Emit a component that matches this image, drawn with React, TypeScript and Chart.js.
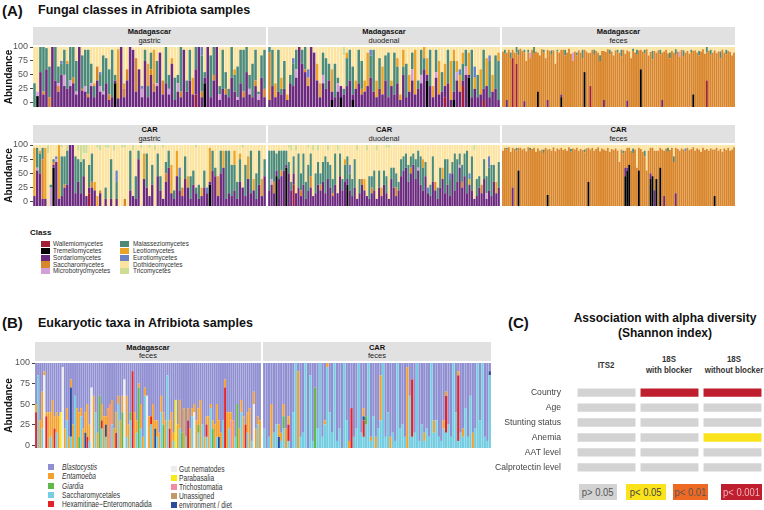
import React, { useEffect, useRef } from "react";
import { Chart, registerables } from "chart.js";
Chart.register(...registerables);

const FONT = "'Liberation Sans', Arial, Helvetica, sans-serif";

// ---------- Panel A: fungal classes ----------
const A_CLASSES = ["Wallemiomycetes", "Tremellomycetes", "Sordariomycetes", "Saccharomycetes", "Microbotryomycetes", "Malasseziomycetes", "Leotiomycetes", "Eurotiomycetes", "Dothideomycetes", "Tricomycetes"];
const A_CODES = ["W", "T", "S", "C", "M", "Z", "L", "E", "D", "R"];
const A_COLORS = ["#a31d36", "#000000", "#6b2a7e", "#d9852a", "#d2a0d6", "#4d8b78", "#eda325", "#6b82c3", "#fce39e", "#cfdc93"];
const A_Y_TICKS = [0, 25, 50, 75, 100];

const MDG_GASTRIC = ["Z35D65","T12M8D80","S55Z45","S15C5Z80","S60Z38D2","C10Z55D35","S100","S40Z60","S20C10M5Z30D35","S50E5Z20D25","S30M20Z45D5","S25Z45L5D25","S30M10Z60","S35C10Z55","S15M5Z55D25","S100","S22C3Z60D15","S20M10Z65D5","S10C5Z80D5","S30M5Z35D30","S10Z20L5D65","S40C25D35","S20M10E5Z20D45","S15M5Z65D15","S35Z45D20","S5C10Z45D40","S10Z85D5","T35S5Z10D50","S8L88D4","S100","S10C15L10D65","S40C20D40","S100","S95D5","S20C60D20","S60D40","S10M15E5D70","S75Z20D5","S10L40Z20D30","S50C10Z30D10","S20C15L60D5","S30M5Z40D25","S90D10","S15C25D60","S35Z65","S15M10Z25D50","S70L10D20","S5Z40D55","S20M15Z15D50","S10C10Z80","S95D5","S20Z20D60","S40Z55D5","S15L30D55","W15S45Z40","S100","S10C10E15Z65","T35S10Z10D45","S100","S10Z75D15","S40C10Z50","S100","S5M10Z15D70","S25Z70D5","S15C10Z30D45","S10Z15D75","S45Z55","S20L10Z30D40","S5M5Z55D35","S35Z60D5","S10C10Z75D5","S55Z45","S15M10Z25D50","S10Z60D30","S30C10Z55D5","S5M10Z5D80","S45Z40D15","S10C15Z70D5"];

const MDG_DUODENAL = ["S5C85Z10","S30Z65D5","S10L25D65","S20Z75D5","S15L20Z10D55","S25Z50D25","S5L10D85","S35Z15D50","S30Z40E10D20","S45M15Z35D5","S100","S70Z25D5","S55C5Z40","S30L15E15D40","S100","S90D10","S40L30D30","S10L25D65","S35M15Z40D10","S25Z55D20","S40Z30D30","T5S15L40D40","S10Z60D30","S20M15Z10D55","T10S20D70","S15Z10D60R15","S30L10Z50D10","S40Z55D5","T5S10Z50D35","S25L15D60","S35Z60D5","S15C10Z50D25","S20L20D60","S30L60D10","S45Z40E10D5","S20Z75D5","S10L30D60","S25Z55D20","S15L50D35","S40Z45D15","S10Z80D10","S30L10D60","S15Z75D10","S35L15Z30D20","S5L10D85","S50L30Z15D5","S10Z60D30","S20L30D50","S40M20Z30D10","S15L80D5","S25Z15D60","S35M15Z45D5","S60L20Z20","T40S10L30D20","S30Z65D5","S10L20D70","S45M10Z40D5","S15L60D25","S20Z35D45","W10S20L40D30","S35Z60D5","S5L70D25","T5S15L20Z55D5","S40M15L20D25","S20L30E10D40","W30S10L20Z30D10","S50M15Z30D5","T45S5L40D10","S10Z85D5","S25L20E20D35","S10Z40D50","S15L45D40","W5S20Z70D5","S30L50D20","S10E10Z65D15","S20L30D50","S25Z60D15","S5L15Z70D10"];

const MDG_FECES = ["C92D8","C88Z7D5","S5C85D10","C95D5","C80Z10D10","W80C15D5","C90D10","W70C20Z10","C85Z10D5","C97D3","C93D7","S3C87Z5D5","C75D25","C90Z5D5","M10C80D10","C95D5","C88Z12","C92D8","T20C70D10","C85D15","C96D4","C90Z5D5","C80D20","S5C90D5","C93D7","C86Z8D6","C94D6","C70D30","C92Z3D5","C90D10","T10S5C80D5","C95D5","C85Z10D5","C90D10","C97D3","C88D12","M15C75D10","C92D8","C85Z5D10","C94D6","C90D10","C80Z15D5","T55C40D5","C92D8","C89D11","W30C60D10","C95D5","C86Z9D5","C93D7","C90D10","C75Z10D15","C93D7","S5C88D7","C91D9","C96D4","C87Z8D5","C92D8","C85D15","C94D6","C90Z5D5","C90D10","C83Z12D5","C95D5","C88D12","S4C90D6","C92D8","C80D20","C93Z4D3","C90D10","C86Z9D5","C94D6","T60C35D5","C92D8","C88Z7D5","C96D4","C85D15","C91D9","C78Z15D7","C93D7","C90D10","C94D6","C87Z8D5","S5C85D10","C92D8","C95D5","C89D11","C80Z10D10","C93D7","C90D10","C86Z10D4","C92D8","M10C82D8","C95D5","C84Z10D6","C90D10","C93D7","C88D12","C91Z4D5","T15C78D7","C94D6","C90D10","C85Z8D7","C92D8","C96D4","C88D12","W40C50Z10","C93D7","C86Z9D5","C90D10","C94D6","C89D11","C92D8","C80Z12D8","C95D5","C90D10","C87Z8D5","C93D7","C91D9","C85D15","C90D10"];

const CAR_GASTRIC = ["S10L85D5","S55M5Z35D5","S50L5Z35D10","S5C70Z20D5","S5L90D5","D85R15","M25Z5D70","T60S5C5Z5D25","S70M5E5D20","S5L95","S10Z70D15R5","S25C5Z50D20","S30Z60R10","S100","S100","S15Z65D20","S35Z40D15R10","S15Z55R30","S45Z30D10R15","S10D75R15","W15S10Z40D35","S25C10Z50D15","S20L15D65","L10D85R5","S15C5D70R10","D100","S5Z20D70R5","D95R5","S5Z70D25","D90R10","S5E20Z30D45","D100","D95R5","C5D90R5","D100","S20Z70D10","S10D80R10","S5Z40D55","S75Z15D10","D95R5","S40L45D15","S25Z60D15","S10D85R5","S30Z35D35","D90R10","S45Z40D15","S20Z25D55","S5D90R5","S35C15Z20D30","S60Z30D10","S15L50D35","S5Z15D80","S45L45D10","S20E15Z25D40","S10C15D75","S40Z40D20","S25L20D55","S5Z40D55","S30Z25D45","S15Z10D70R5","S5Z25D70","S10L15D75","S25Z30D45","S15E10D75","T30S5L60D5","S55Z35D10","S45Z15D40","S10L35D55","S50Z40D10","S60L30D10","S5Z85D10","S15Z75D10","S10Z55D35","S20L25Z45D10","S5Z30D65","S35L10Z40D15","S25D70R5","S10Z55D35","S40L40D20","S15Z75D10","S20L20D60","S5Z45D50","S30Z60D10","S10L30D60","S45Z30D25"];

const CAR_DUODENAL = ["S20Z70D10","S30M10Z50D10","S15C20Z55D10","T45S10Z30D15","S40Z50D10","S45C10Z35D10","S55Z35D10","T60S5Z25D10","S50Z20D25R5","S20Z15D55R10","W30S20Z30D20","S15D75R10","S25Z60D15","S10C10Z30D50","S30Z55D15","S5Z30D65","S20Z45D30R5","S25C20Z40D15","S10D80R10","S15Z35D50","S30Z40D20R10","S20C10Z20D50","S35Z35D30","S15Z65D20","S40Z30D20R10","S25Z40D35","S10C5Z25D60","S30Z55D15","S15D75R10","S45Z40D15","S20Z20D60","S35L10Z30D25","T30S10Z40D20","S20E15Z30D35","S10Z30D60","S25Z50D25","S5D85R10","S15Z25D60","S30C10D60","S20L20D60","S10D80R10","S5Z40D55","S15C10Z20D55","S20Z35D45","S5D85R10","S25Z30D45","S10L15D75","S30Z25D45","S15Z30D50R5","S5D90R5","S40Z20D40","S25Z35D40","S10C15Z25D50","S20Z15D65","S45Z30D25","S55Z25D20","S60Z25D15","S35Z30D35","S50C10Z20D20","S65Z20D15","S40Z35D25","S55M5Z30D10","S30Z50D20","S20L15Z40D25","S45Z25D30","S15E10D75","S10Z20D70","S35Z45D20","S20C15D65","S5Z20D75","S25Z35D40","S40L20D40","S15Z60D25","S30Z45D25","S10E10Z30D50","S50Z20D30","S20Z65D15","S35Z40D25","S60M5Z20D15","S25C10Z30D35","S45Z40D15","S15Z75D10","S30L10E10D50","S20Z60D20","S5D85R10","S10Z30D60","S25Z20D55","S15C15D70","S40Z35D25","S5M10Z30D55","S20E20Z40D20","S10Z55D35","S35Z30D35","S15L20D65","S25Z45D30"];

const CAR_FECES = ["C90D10","C95D5","C92Z3D5","C96D4","C88D12","S25C70D5","C93D7","C90Z5D5","T55C40D5","C95D5","C92D8","C94D6","C89D11","C96D4","C91Z4D5","C93D7","C95D5","C88D12","C94D6","C90D10","C92D8","C86Z6D8","C95D5","T12C80D8","C93D7","C90D10","C96D4","C89D11","C94D6","C92D8","C95D5","C91D9","C93D7","C90D10","C96D4","C88Z5D7","C94D6","C92D8","C95D5","C90D10","C93D7","C91D9","C87Z5D8","C94D6","T35C60D5","C92D8","C95D5","C90D10","C93D7","C96D4","C89D11","C94D6","C92D8","C90D10","C95D5","C88D12","C93D7","C91D9","C94D6","C90D10","C70D30","C92D8","C85Z5D10","T45S15C30D10","T55S5C35D5","T65C30D5","C90D10","C86Z8D6","C92D8","C60D40","T55C40D5","C93D7","C88D12","C80Z10D10","C55D45","C90D10","T40S10C45D5","T45C50D5","S20C70D10","T40C50D10","C90D10","T60C35D5","C92D8","S10C80D10","C94D6","C88Z7D5","C91D9","C95D5","C70Z10D20","S15C80D5","C93D7","C90D10","C94D6","C92D8","C89E5D6","C95D5","C91D9","C93D7","C96D4","C90D10","C94D6","C92D8","C88D12","C95D5","C91D9","C93D7","C90D10","C94D6","C92D8","T10C82D8","C95D5","C90D10","C93D7","C88D12","C94D6","C91D9","C95D5","C90D10","C92D8","C96D4"];

// ---------- Panel B: eukaryotic taxa ----------
const B_TAXA = ["Blastocystis", "Entamoeba", "Giardia", "Saccharomycetales", "Hexamitinae\u2212Enteromonadida", "Gut nematodes", "Parabasalia", "Trichostomatia", "Unassigned", "environment / diet"];
const B_TAXA_CODES = ["B", "E", "G", "Y", "H", "N", "P", "K", "U", "V"];
const B_TAXA_COLORS = ["#8f8fd2", "#f4a02e", "#5fb84a", "#74cde0", "#e32229", "#ececee", "#f7ea15", "#f28ca2", "#c19a6b", "#2c4b9b"];
const B_STACK = ["Y", "G", "H", "N", "P", "K", "U", "V", "E", "B"];

const MDG_B = ["H40E10B50","Y85B15","E30B70","Y20E45B35","N85E5B10","H35E5B60","E40B60","Y10E30B60","E55B45","H20E15B65","Y15E25B60","E35B65","P40B60","N95B5","E20B80","Y30E15B55","E10B90","Y10E10V60B20","E25B75","Y60B40","E45B55","G10E30B60","Y35E10B55","E20B80","V15E25B60","H10E40B50","Y5E20B75","N70B30","E60B40","Y40B60","E15B85","G60B40","Y20H10E20B50","E35B65","Y10V15E10B65","E45B55","K50B50","Y25E30B45","E20B80","H15E25B60","Y50E10B40","E30B70","G40E20B40","N80B20","Y10E50B40","E25B75","Y30G10B60","H90B10","E40B60","Y15E15B70","G70E5B25","Y20E30B50","E10B90","Y60E10B30","N60B40","E35B65","Y25H10B65","E50B50","V20E10B70","Y10E20B70","E15B85","Y40E20B40","G25E15B60","E30B70","Y85B15","H20E10B70","E40B60","Y5E10B85","P55B45","E25B75","Y20E35B45","G15B85","E45B55","Y10B90","H30E15B55","E20B80","Y35E10B55","N40E10B50","E30B70","Y15G10E20B55","E55B45","Y25B75","E10B90","H15Y10E10B65","E35B65","Y45E5B50","G20E10B70","E25B75","Y10E40B50","V10E20B70","E15B85","Y30B70","H70E10B20","E40B60","Y20E20B60","K30E10B60","E30B70","Y10B90","G50B50","E20B80","Y40E15B45","E35B65","H25B75","Y15E25B60","E45B55","Y5B95","N50E15B35","E20B80","Y25E10B65","E30B70"];

const CAR_B = ["Y20B80","B100","Y10B90","E50B50","Y15B85","Y25B75","V10E15B75","Y5E10B85","Y20G15E15B50","E20B80","Y5H20E10B65","B100","Y40B60","Y100","E90B10","Y10B90","Y15B85","Y100","B100","Y85B15","Y5B95","G70B30","Y20B80","Y100","Y10B90","Y25E5B70","Y95E5","Y40B60","Y15B85","Y100","Y5B95","Y20B80","B100","Y100","Y30B70","E5B95","H45B55","Y10B90","Y20B80","Y100","Y15B85","Y10H20V5E10B55","Y25G10B65","Y100","Y5E5B90","Y35B65","E10B90","Y20B80","Y30E55B15","Y100","Y10B90","Y40B60","E10B90","Y15B85","Y5B95","Y100","Y20B80","Y25B75","Y10B90","E95B5","Y60B40","Y10H70B20","Y15B85","Y100","Y5B95","Y25B75","Y5E10B85","Y20B80","Y10B90","Y100","Y15E15B70","Y30B70","Y10B90","Y5B95","Y20E10B70","Y15H45E5B35","Y25B75","Y10B90","Y100","Y40B60","Y5H80E5B10","Y15B85","Y10E10B80","Y45B55","Y10B90","Y60B40","E15B85","Y20B80","Y100","Y30B70","Y100","Y10B90","Y5B95","Y85V5B10"];

// ---------- Panel C: association table ----------
const C_ROWS = ["Country", "Age", "Stunting status", "Anemia", "AAT level", "Calprotectin level"];
const C_ITS2 = ["ns", "ns", "ns", "ns", "ns", "ns"];
const C_18S_BLOCKER = ["p001", "ns", "ns", "ns", "ns", "ns"];
const C_18S_NO_BLOCKER = ["p001", "ns", "ns", "p05", "ns", "ns"];
const P_LEVELS = ["ns", "p05", "p01", "p001"];
const P_LABELS = ["p> 0.05", "p< 0.05", "p< 0.01", "p< 0.001"];
const P_COLORS = ["#d3d3d3", "#fbe31c", "#ee6a24", "#be1e2d"];

function parseBar(s: string): Record<string, number> {
  const o: Record<string, number> = {};
  const re = /([A-Z])(\d+)/g;
  let m: RegExpExecArray | null;
  while ((m = re.exec(s))) o[m[1]] = Number(m[2]);
  return o;
}

function stackConfig(bars: string[], codes: string[], colorOf: (c: string) => string, yMin: number, axisW: number, barPct: number): any {
  const parsed = bars.map(parseBar);
  const datasets = codes.map((code, ci) => ({
    label: code,
    data: parsed.map((p) => {
      const v = p[code] || 0;
      if (!v) return null;
      let s = 0;
      for (let k = 0; k < ci; k++) s += p[codes[k]] || 0;
      return [s === 0 ? yMin : s, s + v];
    }),
    backgroundColor: colorOf(code),
    borderWidth: 0,
    grouped: false,
    barPercentage: barPct,
    categoryPercentage: 1,
  }));
  const yAxis: any = axisW > 0
    ? {
        min: yMin,
        max: 100,
        afterBuildTicks: (s: any) => { s.ticks = A_Y_TICKS.map((v) => ({ value: v })); },
        afterFit: (s: any) => { s.width = axisW; },
        border: { display: false },
        grid: { drawOnChartArea: false, drawTicks: true, tickLength: 3, tickColor: "#444", lineWidth: 1 },
        ticks: { padding: 2, color: "#555", autoSkip: false, font: { family: FONT, size: 9 } },
        title: { display: true, text: "Abundance", color: "#111", font: { family: FONT, size: 10, weight: "bold" }, padding: { top: 3, bottom: 0 } },
      }
    : { display: false, min: yMin, max: 100 };
  return {
    type: "bar",
    data: { labels: bars.map((_, i) => "s" + (i + 1)), datasets },
    options: {
      animation: false,
      responsive: false,
      layout: { padding: { top: 8, bottom: 8, left: 0, right: 0 } },
      plugins: { legend: { display: false }, tooltip: { enabled: false } },
      scales: { x: { display: false }, y: yAxis },
    },
  };
}

function tableConfig(): any {
  const cols = [C_ITS2, C_18S_BLOCKER, C_18S_NO_BLOCKER];
  return {
    type: "bar",
    data: {
      labels: C_ROWS,
      datasets: cols.map((col, j) => ({
        data: C_ROWS.map(() => [j + 0.04, j + 0.96]),
        backgroundColor: col.map((v) => P_COLORS[P_LEVELS.indexOf(v)]),
        borderWidth: 0,
        grouped: false,
        barPercentage: 0.56,
        categoryPercentage: 1,
      })),
    },
    options: {
      indexAxis: "y",
      animation: false,
      responsive: false,
      layout: { padding: { top: 8, bottom: 8, left: 0, right: 0 } },
      plugins: { legend: { display: false }, tooltip: { enabled: false } },
      scales: {
        x: { display: false, min: 0, max: 3 },
        y: {
          afterFit: (s: any) => { s.width = 95; },
          border: { display: false },
          grid: { display: false },
          ticks: { padding: 6, color: "#444", font: { family: FONT, size: 8.6 } },
        },
      },
    },
  };
}

function ChartBox({ x, y, w, h, make }: { x: number; y: number; w: number; h: number; make: () => any }) {
  const ref = useRef<HTMLCanvasElement>(null);
  useEffect(() => {
    const c = new Chart(ref.current as HTMLCanvasElement, make());
    return () => c.destroy();
  }, []);
  return (
    <canvas ref={ref} width={w} height={h} style={{ position: "absolute", left: x, top: y, width: w, height: h, display: "block" }} />
  );
}

function Txt({ x, y, size, bold, italic, color, center, sx, children }: any) {
  const s = sx || 1;
  return (
    <div
      style={{
        position: "absolute",
        left: x,
        top: y,
        transform: (center ? "translate(-50%, -50%)" : "translate(0, -50%)") + (s !== 1 ? ` scaleX(${s})` : ""),
        transformOrigin: center ? "center center" : "left center",
        fontSize: size,
        fontWeight: bold ? 700 : 400,
        fontStyle: italic ? "italic" : "normal",
        color: color || "#111",
        lineHeight: 1,
        whiteSpace: "nowrap",
      }}
    >
      {children}
    </div>
  );
}

function Strip({ x, y, w, h, l1, l2 }: any) {
  return (
    <div style={{ position: "absolute", left: x, top: y, width: w, height: h, background: "#e1e1e1" }}>
      <Txt x={w / 2} y={h / 2 - 4} size={7.5} bold center>{l1}</Txt>
      <Txt x={w / 2} y={h / 2 + 4.5} size={7.5} center color="#222">{l2}</Txt>
    </div>
  );
}

const aColor = (c: string) => A_COLORS[A_CODES.indexOf(c)];
const bColor = (c: string) => B_TAXA_COLORS[B_TAXA_CODES.indexOf(c)];

export default function App() {
  const A_MIN = -7.5;
  const B_MIN = -3.6;
  const facetsA = [
    { x: 0, w: 266, axis: 33, sx: 33, sw: 233 },
    { x: 268, w: 232, axis: 0, sx: 268, sw: 232 },
    { x: 502, w: 233, axis: 0, sx: 502, sw: 233 },
  ];
  const rowA1 = [MDG_GASTRIC, MDG_DUODENAL, MDG_FECES];
  const rowA2 = [CAR_GASTRIC, CAR_DUODENAL, CAR_FECES];
  const pctA = [0.86, 0.86, 0.95];
  const sites = ["gastric", "duodenal", "feces"];
  return (
    <div style={{ position: "absolute", left: 0, top: 0, width: 764, height: 510, background: "#fff", overflow: "hidden", fontFamily: FONT }}>
      {/* Panel A */}
      <Txt x={2} y={10} size={15} bold>(A)</Txt>
      <Txt x={38} y={10} size={12.5} bold>Fungal classes in Afribiota samples</Txt>
      {facetsA.map((f, i) => (
        <Strip key={"s1" + i} x={f.sx} y={27} w={f.sw} h={18} l1="Madagascar" l2={sites[i]} />
      ))}
      {facetsA.map((f, i) => (
        <ChartBox key={"a1" + i} x={f.x} y={39} w={f.w} h={76} make={() => stackConfig(rowA1[i], A_CODES, aColor, A_MIN, f.axis, pctA[i])} />
      ))}
      {facetsA.map((f, i) => (
        <Strip key={"s2" + i} x={f.sx} y={125} w={f.sw} h={18} l1="CAR" l2={sites[i]} />
      ))}
      {facetsA.map((f, i) => (
        <ChartBox key={"a2" + i} x={f.x} y={137} w={f.w} h={77} make={() => stackConfig(rowA2[i], A_CODES, aColor, A_MIN, f.axis, pctA[i])} />
      ))}
      {/* Legend A */}
      <Txt x={30} y={233} size={8} bold>Class</Txt>
      {A_CLASSES.map((name, i) => {
        const col = i < 5 ? 0 : 1;
        const row = i % 5;
        const kx = col === 0 ? 40.5 : 120;
        const ky = 241 + row * 6.8;
        return (
          <React.Fragment key={name}>
            <div style={{ position: "absolute", left: kx, top: ky, width: 9, height: 6.2, background: A_COLORS[i] }} />
            <Txt x={kx + 12.5} y={ky + 3.2} size={8} sx={0.8} color="#333">{name}</Txt>
          </React.Fragment>
        );
      })}

      {/* Panel B */}
      <Txt x={2} y={322} size={15} bold>(B)</Txt>
      <Txt x={38} y={323} size={12.5} bold>Eukaryotic taxa in Afribiota samples</Txt>
      <Strip x={35} y={342} w={226} h={19} l1="Madagascar" l2="feces" />
      <Strip x={263} y={342} w={228} h={19} l1="CAR" l2="feces" />
      <ChartBox x={0} y={355} w={261} h={101} make={() => stackConfig(MDG_B, B_STACK, bColor, B_MIN, 35, 0.92)} />
      <ChartBox x={263} y={355} w={228} h={101} make={() => stackConfig(CAR_B, B_STACK, bColor, B_MIN, 0, 0.92)} />
      {B_TAXA.map((name, i) => {
        const col = i < 5 ? 0 : 1;
        const row = i % 5;
        const kx = col === 0 ? 48 : 171;
        const ky = (col === 0 ? 464.3 : 466) + row * 9.1;
        return (
          <React.Fragment key={name}>
            <div style={{ position: "absolute", left: kx, top: ky, width: 6, height: 6, background: B_TAXA_COLORS[i] }} />
            <Txt x={kx + (col === 0 ? 13.5 : 8)} y={ky + 3} size={9} sx={0.74} italic={i < 3} color="#333">{name}</Txt>
          </React.Fragment>
        );
      })}

      {/* Panel C */}
      <Txt x={508} y={322} size={15} bold>(C)</Txt>
      <Txt x={665} y={318} size={12} bold center>Association with alpha diversity</Txt>
      <Txt x={665} y={333} size={12} bold center>(Shannon index)</Txt>
      <Txt x={606} y={365} size={9} sx={0.88} bold center color="#333">ITS2</Txt>
      <Txt x={669} y={359} size={9} sx={0.88} bold center color="#333">18S</Txt>
      <Txt x={669} y={370} size={9} sx={0.88} bold center color="#333">with blocker</Txt>
      <Txt x={734} y={359} size={9} sx={0.88} bold center color="#333">18S</Txt>
      <Txt x={734} y={370} size={9} sx={0.88} bold center color="#333">without blocker</Txt>
      <ChartBox x={480} y={374} w={284} h={112} make={tableConfig} />
      {P_LABELS.map((lab, i) => {
        const boxes = [[579, 38], [626, 40], [673, 35], [721, 41]];
        const tc = ["#555", "#444", "#555", "#f0b4bc"];
        return (
          <div key={lab} style={{ position: "absolute", left: boxes[i][0], top: 484, width: boxes[i][1], height: 16, background: P_COLORS[i], color: tc[i], fontSize: 10.5, lineHeight: "16px", textAlign: "center", whiteSpace: "nowrap" }}>
            <span style={{ display: "inline-block", transform: "scaleX(0.9)" }}>{lab}</span>
          </div>
        );
      })}
    </div>
  );
}
